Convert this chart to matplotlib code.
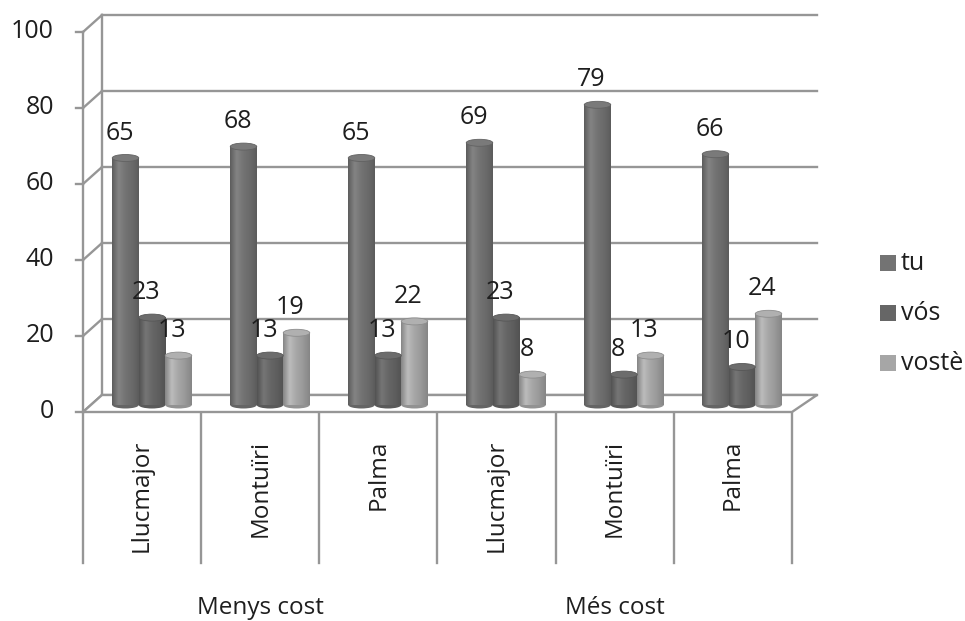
import matplotlib
matplotlib.use("Agg")
import matplotlib.pyplot as plt
import numpy as np
from matplotlib.patches import Ellipse, Polygon, Rectangle
from matplotlib.colors import LinearSegmentedColormap

plt.rcParams['font.family'] = ['Open Sans', 'DejaVu Sans']

categories = ["Llucmajor", "Montuïri", "Palma", "Llucmajor", "Montuïri", "Palma"]
groups = ["Menys cost", "Més cost"]
series = ["tu", "vós", "vostè"]
tu = [65, 68, 65, 69, 79, 66]
vos = [23, 13, 13, 23, 8, 10]
voste = [13, 19, 22, 8, 13, 24]
yticks = [0, 20, 40, 60, 80, 100]

colors = ["#737373", "#666666", "#a6a6a6"]
FS = 18

W, H = 965, 621
fig = plt.figure(figsize=(W / 100, H / 100), dpi=100)

PX_X = 118.0
PX_Y = 3.8
left_px, right_px = 93, 93 + 6 * PX_X
bottom_px = 405
top_px = bottom_px - 100 * PX_Y
ax = fig.add_axes([left_px / W, (H - bottom_px) / H, (right_px - left_px) / W, (bottom_px - top_px) / H])
ax.set_xlim(-0.5, 5.5)
ax.set_ylim(0, 100)
ax.axis('off')

def ux(px):
    return px / PX_X

def uy(px):
    return px / PX_Y

front_dx, front_dy = ux(-10), uy(-7)
back_dy = uy(10)
x_front_left = -0.5 + ux(83 - left_px)
x_back_left = -0.5 + ux(102 - left_px)
x_front_right = -0.5 + ux(792 - left_px)
x_back_right = -0.5 + ux(817 - left_px)

grid_c = "#969696"
lw = 1.7
txt_c = "#1e1e1e"
for v in yticks:
    ax.plot([x_back_left, x_back_right], [v + back_dy, v + back_dy], color=grid_c, lw=lw, clip_on=False, zorder=1)
    ax.plot([x_front_left, x_back_left], [v + front_dy, v + back_dy], color=grid_c, lw=lw, clip_on=False, zorder=1)
    ax.plot([x_front_left - ux(7), x_front_left], [v + front_dy, v + front_dy], color=grid_c, lw=lw, clip_on=False, zorder=1)
    ax.text(x_front_left + ux(-29), v + front_dy, str(v), ha='right', va='center', fontsize=FS, color=txt_c, clip_on=False)
ax.plot([x_back_left, x_back_left], [back_dy, 100 + back_dy], color=grid_c, lw=lw, clip_on=False, zorder=1)
ax.plot([x_front_left, x_front_left], [front_dy, 100 + front_dy], color=grid_c, lw=lw, clip_on=False, zorder=1)
floor = Polygon([[x_front_left, front_dy], [x_front_right, front_dy], [x_back_right, back_dy], [x_back_left, back_dy]],
                closed=True, facecolor='white', edgecolor=grid_c, lw=lw, clip_on=False, zorder=1.5)
ax.add_patch(floor)

y_div_bottom = uy(bottom_px - 563)
cat_w = (x_front_right - x_front_left) / 6
for i in range(7):
    xx = x_front_left + i * cat_w
    ax.plot([xx, xx], [front_dy, y_div_bottom], color=grid_c, lw=lw, clip_on=False, zorder=1)
for i, c in enumerate(categories):
    xx = x_front_left + (i + 0.5) * cat_w
    ax.text(xx, uy(bottom_px - 440), c, rotation=90, ha='center', va='top', fontsize=17.5, color=txt_c, clip_on=False)
for g, name in enumerate(groups):
    xx = x_front_left + (3 * g + 1.5) * cat_w
    ax.text(xx, uy(bottom_px - 608), name, ha='center', va='center', fontsize=17.5, color=txt_c, clip_on=False)

bw = ux(26.5)
offsets = [-1, 0, 1]
ell_h = uy(7)

def shade_cmap(base):
    b = np.array(matplotlib.colors.to_rgb(base))
    dark = b * 0.8
    light = np.minimum(b * 1.1 + 0.02, 1)
    return LinearSegmentedColormap.from_list("c", [dark, light, b, b * 0.92, dark], N=256)

grad = np.linspace(0, 1, 256).reshape(1, -1)
for s, vals in enumerate([tu, vos, voste]):
    xs = np.arange(6) + offsets[s] * bw
    bars = ax.bar(xs, vals, width=bw, color=colors[s], zorder=3, linewidth=0, clip_on=False)
    cmap = shade_cmap(colors[s])
    base = np.array(matplotlib.colors.to_rgb(colors[s]))
    for b, v in zip(bars, vals):
        x0 = b.get_x()
        im = ax.imshow(grad, extent=[x0, x0 + bw, 0, v], aspect='auto', cmap=cmap, zorder=3.1, clip_on=False)
        im.set_clip_path(b)
        ax.add_patch(Ellipse((x0 + bw / 2, 0), bw, ell_h, facecolor=base * 0.88, edgecolor='none', zorder=2.9, clip_on=False))
        ax.add_patch(Ellipse((x0 + bw / 2, v), bw, ell_h, facecolor=np.minimum(base * 1.06, 1), edgecolor=base * 0.85, lw=0.6, zorder=3.3, clip_on=False))
        ax.text(x0 + bw / 2 - ux(6), v + uy(25), str(v), ha='center', va='center', fontsize=FS, color=txt_c, zorder=4, clip_on=False)
ax.set_xlim(-0.5, 5.5)
ax.set_ylim(0, 100)

leg_y = [263, 313, 363]
for s, name in enumerate(series):
    yy = H - leg_y[s]
    fig.patches.append(Rectangle((880 / W, (yy - 8) / H), 16 / W, 16 / H, transform=fig.transFigure,
                                 facecolor=colors[s], edgecolor='none'))
    fig.text(901 / W, yy / H, name, ha='left', va='center', fontsize=FS, color=txt_c)

fig.savefig("out.png", dpi=100)
